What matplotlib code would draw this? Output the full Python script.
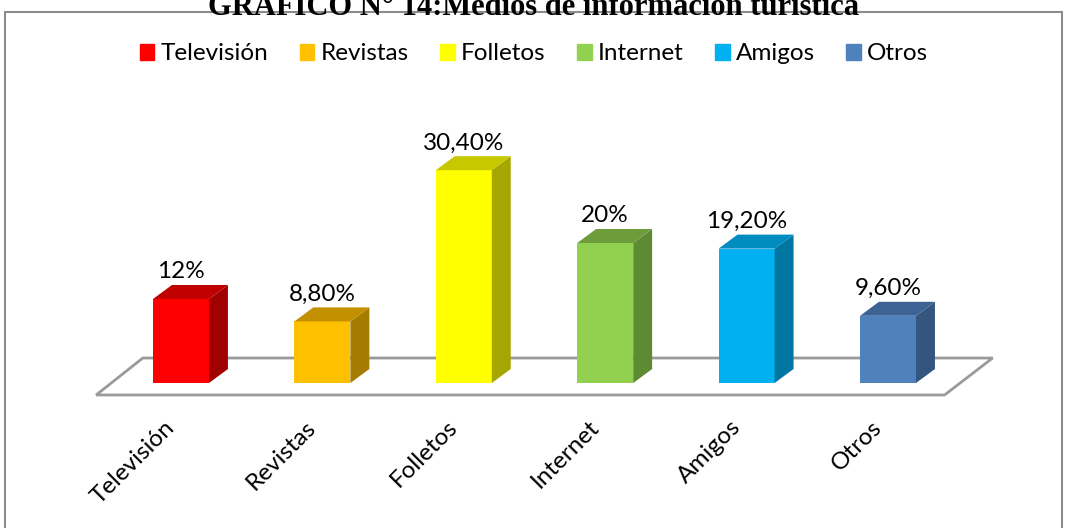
import matplotlib.pyplot as plt
from matplotlib.patches import Polygon, Rectangle

# datos del gráfico
categorias = ["Televisión", "Revistas", "Folletos", "Internet", "Amigos", "Otros"]
valores = [12, 8.8, 30.4, 20, 19.2, 9.6]
etiquetas = ["12%", "8,80%", "30,40%", "20%", "19,20%", "9,60%"]

# colores: cara frontal, lateral y superior
frente = ["#FF0000", "#FFC000", "#FFFF00", "#92D050", "#00B0F0", "#4F81BD"]
lateral = ["#A00000", "#A67C00", "#A6A600", "#5F8A34", "#0077A3", "#34557E"]
arriba = ["#C00000", "#C49000", "#C8C800", "#6E9C3D", "#008CBF", "#3D6394"]

plt.rcParams["font.family"] = ["Lato", "DejaVu Sans"]
fs = 17.5

fig = plt.figure(figsize=(10.68, 5.28), dpi=100)
ax = fig.add_axes([0, 0, 1, 1])
ax.set_xlim(-1.28, 6.273)
ax.set_ylim(-20.71, 54.71)
ax.axis("off")

ancho = 0.396
dx, dy = 0.134, 2.0  # profundidad de la barra

# piso
piso = Polygon([(-0.60, -1.71), (5.40, -1.71), (5.74, 3.57), (-0.27, 3.57)],
               closed=True, facecolor="white", edgecolor="#9A9A9A", lw=2, zorder=1)
ax.add_patch(piso)

for i, v in enumerate(valores):
    x0 = i - ancho / 2
    x1 = i + ancho / 2
    ax.bar(i, v, width=ancho, color=frente[i], zorder=3)
    ax.add_patch(Polygon([(x1, 0), (x1 + dx, dy), (x1 + dx, v + dy), (x1, v)],
                         closed=True, facecolor=lateral[i], lw=0, zorder=3))
    ax.add_patch(Polygon([(x0, v), (x1, v), (x1 + dx, v + dy), (x0 + dx, v + dy)],
                         closed=True, facecolor=arriba[i], lw=0, zorder=3))
    ax.text(i, v + dy + 1.9, etiquetas[i], ha="center", va="center", fontsize=fs, zorder=4)
    ax.text(i - 0.12, -4.8, categorias[i], ha="right", va="top", rotation=45,
            rotation_mode="anchor", fontsize=fs)

# marco del área del gráfico
fig.patches.append(Rectangle((5 / 1068, -0.01), 1057 / 1068, 1 - 12 / 528 + 0.01,
                             transform=fig.transFigure, fill=False,
                             edgecolor="#8C8C8C", lw=1.5))

# título (cortado arriba como en la imagen)
fig.text(0.5, 1 - 15 / 528, "GRÁFICO N° 14:Medios de información turística",
         ha="center", va="baseline", fontsize=22, fontweight="bold",
         family=["Liberation Serif", "DejaVu Serif"])

# leyenda
handles = [Rectangle((0, 0), 1, 1, color=c) for c in frente]
fig.legend(handles, categorias, loc="center", bbox_to_anchor=(0.5, 1 - 54 / 528),
           ncol=6, frameon=False, fontsize=fs, handlelength=0.6, handleheight=0.6,
           handletextpad=0.25, columnspacing=1.3)

fig.savefig("out.png", dpi=100)
